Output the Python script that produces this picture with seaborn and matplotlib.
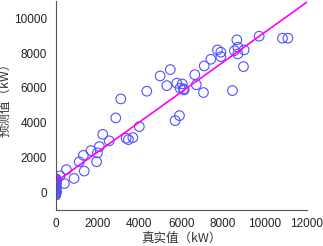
import numpy as np
import pandas as pd
import matplotlib
matplotlib.use("Agg")
import matplotlib.pyplot as plt
import seaborn as sns

# 真实值 / 预测值 (kW)
actual = [0, 10, 20, 30, 40, 0, 15, 25, 35, 5, 20, 30, 10, 0, 40, 25, 15, 30, 5, 20,
          215, 420, 520, 884, 1130, 1330, 1370, 1690, 1960, 2000, 2094, 2255, 2560, 2876,
          3115, 3370, 3480, 3690, 4000, 4357, 4993, 5313, 5480, 5709, 5790, 5915, 5948,
          6050, 6106, 6140, 6650, 6720, 7062, 7100, 7415, 7731, 7893, 7893, 8447, 8543,
          8657, 8705, 8705, 8973, 9006, 9723, 10836, 11094]
predicted = [-150, -100, -50, 0, 50, 100, 150, 200, 250, 300, 350, 400, 450, 500, 550,
             600, 650, 700, 750, 800,
             960, 520, 1320, 815, 1770, 2140, 1235, 2410, 1770, 2280, 2640, 3340, 2970, 4283,
             5373, 3120, 3040, 3154, 3785, 5814, 6690, 6135, 7053, 4128, 6273, 4415, 5990,
             6233, 5946, 5889, 6760, 6185, 5737, 7265, 7646, 8182, 8050, 7798, 5849, 8142,
             8756, 7953, 8337, 7225, 8182, 8968, 8853, 8853]

# fitted line
fit_slope = 0.86
fit_intercept = 600
fit_x = [0, 12000]

x_ticks = [0, 2000, 4000, 6000, 8000, 10000, 12000]
y_ticks = [0, 2000, 4000, 6000, 8000, 10000]

df = pd.DataFrame({"actual": actual, "predicted": predicted})
line_df = pd.DataFrame({"x": fit_x})
line_df["y"] = fit_intercept + fit_slope * line_df["x"]

sns.set_style("white")
plt.rcParams["font.family"] = ["Liberation Sans", "Noto Sans CJK SC", "DejaVu Sans"]

fig = plt.figure(figsize=(3.23, 2.46), dpi=100)
ax = fig.add_axes([0.172, 0.146, 0.778, 0.851])

sns.scatterplot(data=df, x="actual", y="predicted", ax=ax, marker="o", s=48,
                facecolor="none", edgecolor="#5050ff", linewidth=0.8)
sns.lineplot(data=line_df, x="x", y="y", ax=ax, color="#ff00ff", linewidth=1.2)

ax.set_xlim(0, 12000)
ax.set_ylim(-1000, 11000)
ax.set_xticks(x_ticks)
ax.set_yticks(y_ticks)
ax.tick_params(direction="in", length=3, width=0.6, color="#555555",
               labelsize=8.5, pad=6, labelcolor="#222222")
for side in ["top", "right"]:
    ax.spines[side].set_visible(False)
for side in ["left", "bottom"]:
    ax.spines[side].set_color("#555555")
    ax.spines[side].set_linewidth(0.8)

cjk = ["Noto Sans CJK SC", "DejaVu Sans"]
ax.set_xlabel("真实值（kW）", fontsize=9, family=cjk, color="#333333", labelpad=1)
ax.set_ylabel("预测值（kW）", fontsize=9, family=cjk, color="#333333")
ax.yaxis.set_label_coords(-0.175, 0.54)

fig.savefig("out.png", dpi=100)
